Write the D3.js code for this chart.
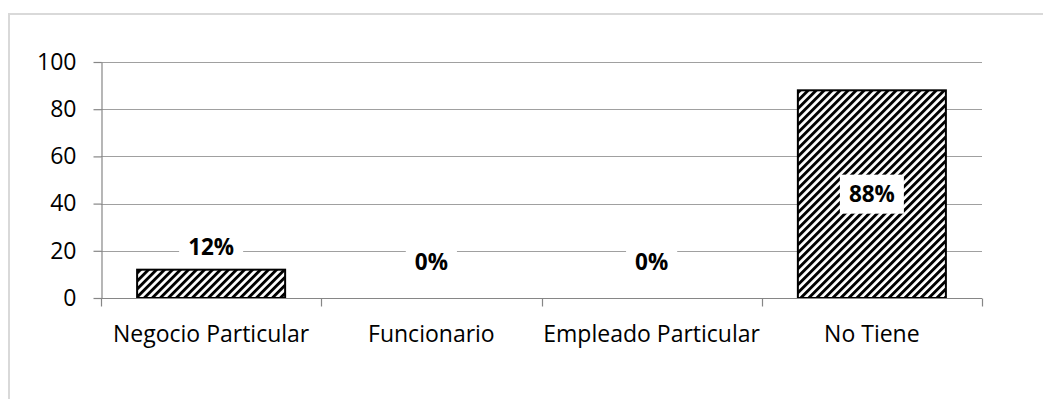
<!DOCTYPE html>
<html>
<head>
<meta charset="utf-8">
<script src="https://cdn.jsdelivr.net/npm/d3@7"></script>
<style>
  html, body { margin: 0; padding: 0; background: #fff; }
  svg { display: block; }
  text { font-family: "Open Sans", "Noto Sans", sans-serif; fill: #000; }
</style>
</head>
<body>
<svg id="chart" width="1043" height="399"></svg>
<script>
// Ocupación: share of respondents by type of work (%)
const categories = ["Negocio Particular", "Funcionario", "Empleado Particular", "No Tiene"];
const values = [12, 0, 0, 88];
const valueLabels = ["12%", "0%", "0%", "88%"];
const yTicks = [0, 20, 40, 60, 80, 100];

const W = 1043, H = 399;
const plot = { left: 101, right: 982, top: 62, bottom: 298 };

const svg = d3.select("#chart");

// hatch fill for the bars: dense black "/" stripes
const defs = svg.append("defs");
const pat = defs.append("pattern")
  .attr("id", "hatch")
  .attr("patternUnits", "userSpaceOnUse")
  .attr("width", 5.66).attr("height", 5.66)
  .attr("patternTransform", "rotate(45)");
pat.append("rect").attr("width", 5.66).attr("height", 5.66).attr("fill", "#fff");
pat.append("rect").attr("width", 2.9).attr("height", 5.66).attr("fill", "#000");

// outer chart frame
svg.append("rect")
  .attr("x", 9).attr("y", 14)
  .attr("width", W + 20).attr("height", H + 20)
  .attr("fill", "none").attr("stroke", "#d9d9d9").attr("stroke-width", 2);

const x = d3.scaleBand()
  .domain(categories)
  .range([plot.left, plot.right])
  .paddingInner(0.328)
  .paddingOuter(0.164);

const y = d3.scaleLinear()
  .domain([0, 100])
  .range([plot.bottom, plot.top]);

// horizontal gridlines
svg.append("g")
  .selectAll("line")
  .data(yTicks.filter(d => d > 0))
  .join("line")
  .attr("x1", plot.left).attr("x2", plot.right)
  .attr("y1", d => Math.round(y(d)) + 0.5).attr("y2", d => Math.round(y(d)) + 0.5)
  .attr("stroke", "#a0a0a0").attr("stroke-width", 1.2);

// y axis
const yAxis = svg.append("g")
  .attr("transform", `translate(${plot.left + 0.5},0)`)
  .call(d3.axisLeft(y).tickValues(yTicks).tickSize(8).tickPadding(17).tickSizeOuter(0));
yAxis.select(".domain").attr("stroke", "#868686").attr("stroke-width", 1.2);
yAxis.selectAll(".tick line").attr("stroke", "#868686").attr("stroke-width", 1.2);
yAxis.selectAll(".tick text")
  .attr("font-family", "\"Open Sans\", sans-serif")
  .attr("font-size", 23).attr("fill", "#000");

// bars
svg.append("g")
  .selectAll("rect")
  .data(values)
  .join("rect")
  .attr("x", (d, i) => x(categories[i]))
  .attr("width", x.bandwidth())
  .attr("y", d => y(d))
  .attr("height", d => y(0) - y(d))
  .attr("fill", "url(#hatch)")
  .attr("stroke", d => d > 0 ? "#000" : "none")
  .attr("stroke-width", 2);

// x axis with ticks between categories
const xAxis = svg.append("g").attr("transform", `translate(0,${plot.bottom + 0.5})`);
xAxis.append("line")
  .attr("x1", plot.left).attr("x2", plot.right)
  .attr("stroke", "#868686").attr("stroke-width", 1.2);
const step = x.step();
xAxis.selectAll("line.tk")
  .data(d3.range(categories.length + 1))
  .join("line").attr("class", "tk")
  .attr("x1", i => Math.round(plot.left + i * step) + 0.5)
  .attr("x2", i => Math.round(plot.left + i * step) + 0.5)
  .attr("y1", 0).attr("y2", 8)
  .attr("stroke", "#868686").attr("stroke-width", 1.2);
xAxis.selectAll("text")
  .data(categories)
  .join("text")
  .attr("x", d => x(d) + x.bandwidth() / 2)
  .attr("y", 35)
  .attr("dy", "0.35em")
  .attr("text-anchor", "middle")
  .attr("font-size", 23)
  .text(d => d);

// value labels on white boxes
const labels = svg.append("g");
values.forEach((v, i) => {
  const cx = x(categories[i]) + x.bandwidth() / 2;
  const barH = y(0) - y(v);
  let cy;
  if (barH > 60) cy = (y(v) + y(0)) / 2;          // inside, centered
  else if (v > 0) cy = y(v) - 23;                  // just above the bar
  else cy = y(0) - 36;                             // empty bar
  const g = labels.append("g").attr("transform", `translate(${cx},${cy})`);
  const box = g.append("rect").attr("fill", "#fff");
  const t = g.append("text")
    .attr("text-anchor", "middle")
    .attr("dy", "0.36em")
    .attr("font-size", 22.5)
    .attr("font-weight", "bold")
    .text(valueLabels[i]);
  const w = t.node().getComputedTextLength() + 18;
  box.attr("x", -w / 2).attr("y", -19.5).attr("width", w).attr("height", 39);
});
</script>
</body>
</html>
